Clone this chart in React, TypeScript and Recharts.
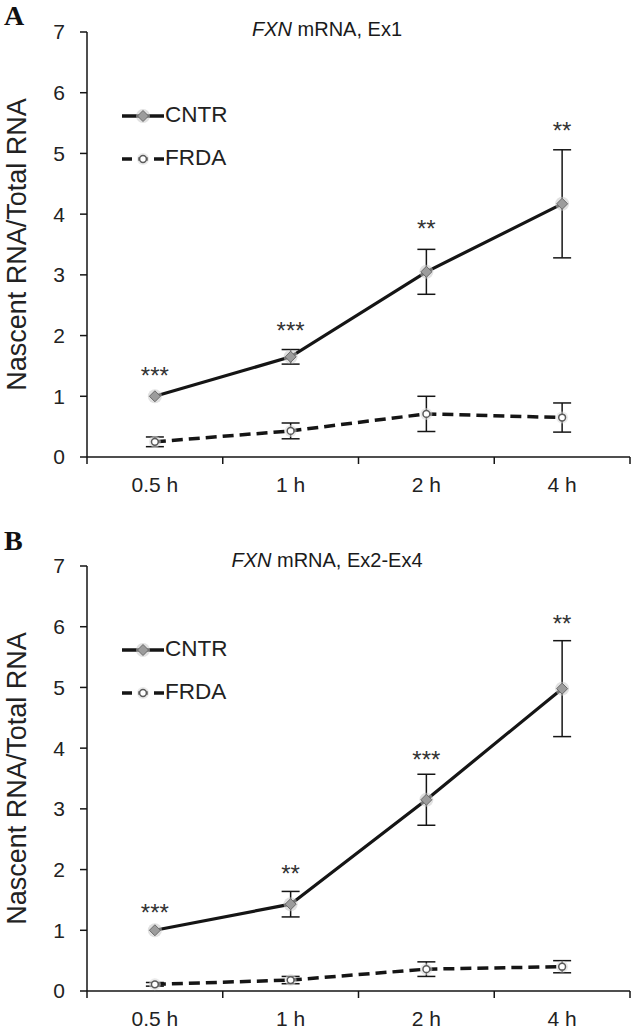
import React from 'react';
import { LineChart, Line, XAxis, YAxis, ErrorBar, Legend, LabelList, Label } from 'recharts';

const categories = ['0.5 h', '1 h', '2 h', '4 h'];
const yTicks = [0, 1, 2, 3, 4, 5, 6, 7];
const seriesNames = ['CNTR', 'FRDA'];

const cntrA = [1.0, 1.65, 3.05, 4.17];
const cntrErrA = [0, 0.12, 0.37, 0.89];
const frdaA = [0.25, 0.43, 0.71, 0.65];
const frdaErrA = [0.08, 0.13, 0.29, 0.24];
const starsA = ['***', '***', '**', '**'];
const starPosA = [1.35, 2.09, 3.76, 5.37];

const cntrB = [1.0, 1.43, 3.15, 4.98];
const cntrErrB = [0, 0.21, 0.42, 0.79];
const frdaB = [0.11, 0.18, 0.36, 0.4];
const frdaErrB = [0.03, 0.06, 0.12, 0.1];
const starsB = ['***', '**', '***', '**'];
const starPosB = [1.3, 1.93, 3.81, 6.05];

const FONT = '"Liberation Sans", Arial, sans-serif';
const INK = '#151515';
const X_AXIS_H = 40;

const xTicks = categories.flatMap((_, i) => [i, i + 0.5]).concat([categories.length]);

function buildData(cntr: number[], cntrErr: number[], frda: number[], frdaErr: number[], stars: string[], starPos: number[]) {
  return categories.map((c, i) => ({
    x: i + 0.5,
    label: c,
    cntr: cntr[i],
    cntrErr: cntrErr[i],
    frda: frda[i],
    frdaErr: frdaErr[i],
    star: starPos[i],
    starText: stars[i],
  }));
}

const Diamond = ({ cx, cy }: { cx: number; cy: number }) => (
  <g>
    <circle cx={cx} cy={cy} r={7} fill="#c8c8c8" opacity={0.55} />
    <polygon
      points={`${cx},${cy - 5.5} ${cx + 5.5},${cy} ${cx},${cy + 5.5} ${cx - 5.5},${cy}`}
      fill="#9c9c9c"
      stroke="#6a6a6a"
      strokeWidth={1}
    />
  </g>
);

const OpenCircle = ({ cx, cy }: { cx: number; cy: number }) => (
  <g>
    <circle cx={cx} cy={cy} r={6} fill="#d8d8d8" opacity={0.55} />
    <circle cx={cx} cy={cy} r={3.4} fill="#ffffff" stroke="#5a5a5a" strokeWidth={1.5} />
  </g>
);

const cntrDot = (p: any) => <Diamond key={`c${p.index}`} cx={p.cx} cy={p.cy} />;
const frdaDot = (p: any) => <OpenCircle key={`f${p.index}`} cx={p.cx} cy={p.cy} />;

const XTick = (props: any) => {
  const { x, y, payload } = props;
  const v = payload.value;
  if (Number.isInteger(v)) {
    return <line x1={x} x2={x} y1={y} y2={y + 7} stroke={INK} strokeWidth={1.5} />;
  }
  return (
    <text x={x} y={y + 35} textAnchor="middle" fontSize={21} fill="#222" fontFamily={FONT}>
      {categories[Math.floor(v)]}
    </text>
  );
};

const renderLegend = () => (
  <div style={{ fontFamily: FONT, fontSize: 22.5, color: '#222' }}>
    {seriesNames.map((n, i) => (
      <div key={n} style={{ display: 'flex', alignItems: 'center', height: 43 }}>
        <svg width={44} height={16} style={{ display: 'block' }}>
          <line
            x1={1}
            x2={43}
            y1={8}
            y2={8}
            stroke={INK}
            strokeWidth={3.5}
            strokeDasharray={i ? '10 6' : undefined}
          />
          {i === 0 ? <Diamond cx={22} cy={8} /> : <OpenCircle cx={22} cy={8} />}
        </svg>
        <span style={{ lineHeight: 1 }}>{n}</span>
      </div>
    ))}
  </div>
);

const YLabel = (props: any) => {
  const vb = props.viewBox || { x: 0, y: 32, width: 87, height: 425 };
  const cy = vb.y + vb.height / 2;
  const x = 26;
  return (
    <text
      x={x}
      y={cy}
      transform={`rotate(-90, ${x}, ${cy})`}
      textAnchor="middle"
      fontSize={27}
      fill="#222"
      fontFamily={FONT}
    >
      Nascent RNA/Total RNA
    </text>
  );
};

function Panel({ data, height }: { data: any[]; height: number }) {
  return (
    <LineChart
      width={633}
      height={height}
      data={data}
      margin={{ top: 32, right: 3, bottom: height - 457 - X_AXIS_H, left: 0 }}
    >
      <XAxis
        dataKey="x"
        type="number"
        domain={[0, categories.length]}
        ticks={xTicks}
        interval={0}
        tick={<XTick />}
        tickSize={0}
        tickMargin={0}
        tickLine={false}
        height={X_AXIS_H}
        axisLine={{ stroke: INK, strokeWidth: 1.5 }}
      />
      <YAxis
        type="number"
        domain={[0, 7]}
        ticks={yTicks}
        interval={0}
        width={87}
        tickSize={7}
        tickMargin={15}
        tickLine={{ stroke: INK, strokeWidth: 1.5 }}
        axisLine={{ stroke: INK, strokeWidth: 1.5 }}
        tick={{ fontSize: 21, fill: '#222', fontFamily: FONT }}
      >
        <Label content={<YLabel />} />
      </YAxis>
      <Legend
        layout="vertical"
        align="center"
        verticalAlign="middle"
        content={renderLegend}
        wrapperStyle={{ left: 121, top: 94, width: 220, height: 86 }}
      />
      <Line
        dataKey="frda"
        name="FRDA"
        stroke={INK}
        strokeWidth={3.5}
        strokeDasharray="11 6"
        dot={frdaDot}
        activeDot={false}
        isAnimationActive={false}
      >
        <ErrorBar dataKey="frdaErr" direction="y" width={9} stroke={INK} strokeWidth={1.5} />
      </Line>
      <Line
        dataKey="cntr"
        name="CNTR"
        stroke={INK}
        strokeWidth={3.2}
        dot={cntrDot}
        activeDot={false}
        isAnimationActive={false}
      >
        <ErrorBar dataKey="cntrErr" direction="y" width={9} stroke={INK} strokeWidth={1.5} />
      </Line>
      <Line
        dataKey="star"
        stroke="none"
        dot={false}
        activeDot={false}
        legendType="none"
        isAnimationActive={false}
      >
        <LabelList dataKey="starText" position="center" fontSize={24} fill="#333" fontFamily={FONT} />
      </Line>
    </LineChart>
  );
}

const dataA = buildData(cntrA, cntrErrA, frdaA, frdaErrA, starsA, starPosA);
const dataB = buildData(cntrB, cntrErrB, frdaB, frdaErrB, starsB, starPosB);

export default function App() {
  return (
    <div
      style={{
        position: 'absolute',
        left: 0,
        top: 0,
        width: 633,
        height: 1031,
        background: '#ffffff',
        overflow: 'hidden',
      }}
    >
      <div style={{ position: 'absolute', left: 0, top: 0 }}>
        <Panel data={dataA} height={534} />
      </div>
      <div style={{ position: 'absolute', left: 0, top: 534 }}>
        <Panel data={dataB} height={497} />
      </div>
      <svg
        width={633}
        height={1031}
        style={{ position: 'absolute', left: 0, top: 0, pointerEvents: 'none' }}
      >
        <text x={327} y={36} textAnchor="middle" fontSize={20} fill="#1a1a1a" fontFamily={FONT}>
          <tspan fontStyle="italic">FXN</tspan>
          <tspan> mRNA, Ex1</tspan>
        </text>
        <text x={327} y={567} textAnchor="middle" fontSize={20} fill="#1a1a1a" fontFamily={FONT}>
          <tspan fontStyle="italic">FXN</tspan>
          <tspan> mRNA, Ex2-Ex4</tspan>
        </text>
        <text
          x={4}
          y={25}
          fontSize={28}
          fontWeight="bold"
          fill="#111"
          fontFamily={'"Liberation Serif", "Times New Roman", serif'}
        >
          A
        </text>
        <text
          x={4}
          y={550}
          fontSize={28}
          fontWeight="bold"
          fill="#111"
          fontFamily={'"Liberation Serif", "Times New Roman", serif'}
        >
          B
        </text>
      </svg>
    </div>
  );
}
